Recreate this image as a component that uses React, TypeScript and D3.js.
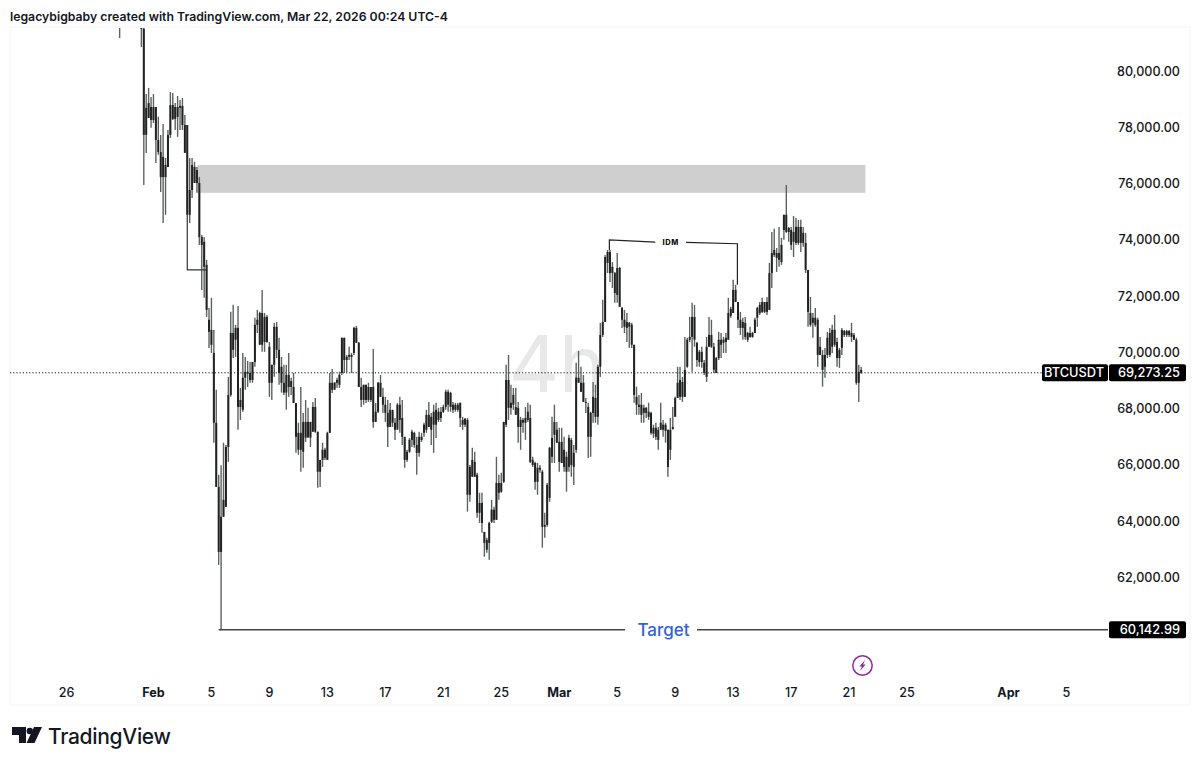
import React, { useEffect, useRef } from 'react';
import * as d3 from 'd3';

// 4h BTCUSDT candles, prices in thousands of USD
const firstCandle = Date.UTC(2026, 0, 29, 16);

const highs = [
  83.20,84.10,84.50,84.20,83.90,84.30,84.60,84.00,83.50,83.10,
  82.10,79.18,79.40,79.08,79.18,78.72,78.37,77.73,78.12,76.91,
  77.90,79.25,79.22,78.86,79.11,78.97,79.04,78.44,78.08,76.91,
  76.91,76.77,76.59,76.23,74.17,74.10,73.29,71.58,71.94,70.80,
  68.67,65.65,65.99,66.79,66.71,69.13,71.44,71.69,70.98,71.65,
  68.74,69.98,69.84,69.70,69.66,69.66,71.23,71.51,71.44,72.22,
  71.40,71.33,70.37,69.56,71.05,71.08,70.52,69.84,69.56,69.56,
  69.98,69.10,69.27,68.20,67.50,68.77,67.85,68.31,68.03,67.53,
  68.24,68.38,67.18,66.18,66.79,66.61,67.18,69.27,69.41,68.95,
  69.10,69.31,70.52,70.52,69.91,70.20,69.98,70.91,70.94,70.37,
  69.10,68.85,68.85,68.92,68.77,70.12,68.20,68.95,69.20,68.74,
  68.42,68.31,68.20,67.89,67.67,68.20,68.42,68.31,67.00,66.54,
  66.96,67.25,67.18,67.00,67.18,67.14,67.50,67.96,68.24,67.85,
  68.14,68.21,68.03,68.06,68.14,68.67,68.67,68.60,68.24,68.21,
  68.21,68.21,67.71,67.67,67.67,66.00,66.61,66.47,65.72,65.01,
  65.01,63.62,63.41,63.98,64.76,64.51,66.29,65.65,65.72,67.53,
  69.56,69.91,68.85,68.74,68.74,68.24,67.71,67.67,68.06,68.21,
  68.14,66.29,66.11,66.07,66.00,65.83,64.30,65.36,66.64,67.71,
  68.14,67.53,67.32,67.32,67.00,66.47,67.07,66.96,66.71,69.63,
  70.05,69.49,69.20,68.38,68.21,67.89,68.95,68.85,69.56,71.05,
  71.87,73.46,73.64,73.64,73.21,72.86,73.53,73.04,71.62,71.51,
  71.40,71.08,71.05,70.27,68.78,68.49,68.56,68.14,68.06,68.21,
  67.89,67.43,67.50,67.35,68.21,67.60,67.50,67.25,67.67,68.06,
  68.42,69.49,69.49,69.13,70.55,70.52,71.26,71.76,71.69,70.37,
  70.09,70.20,69.73,70.55,71.26,71.16,70.34,69.84,70.73,70.69,
  70.55,70.69,71.94,71.62,72.58,72.40,71.79,71.44,71.23,71.26,
  70.73,70.91,70.73,71.23,71.62,71.79,71.94,71.79,71.97,73.18,
  74.28,74.39,73.71,74.46,74.07,74.89,75.95,74.46,74.46,74.85,
  74.78,74.71,74.71,74.46,74.25,72.93,71.97,71.40,71.58,71.23,
  70.55,70.09,70.16,70.73,70.87,70.98,71.33,70.52,70.16,70.87,
  70.80,70.80,70.80,71.05,70.69,70.52,69.56,69.49,
];

const lows = [
  81.17,82.60,83.00,82.90,82.70,83.00,83.20,82.80,82.30,80.85,
  75.95,77.09,78.33,77.98,78.15,76.73,77.02,75.70,74.60,74.89,
  76.59,77.62,78.26,77.90,77.66,77.90,77.90,77.09,74.89,74.60,
  75.49,76.02,75.67,73.82,72.22,71.94,71.26,70.16,69.98,66.79,
  65.22,62.45,60.14,64.16,64.51,66.11,68.42,69.80,69.84,67.25,
  67.60,67.89,68.67,68.77,68.92,68.92,69.49,70.69,70.27,70.02,
  70.02,70.34,68.42,68.31,69.13,69.80,68.85,68.57,68.49,67.96,
  68.42,68.49,68.20,66.43,66.36,65.76,65.90,66.82,67.00,66.64,
  67.18,67.14,65.19,65.22,65.93,66.18,66.18,67.14,68.56,68.74,
  68.74,68.74,69.20,69.27,69.27,69.73,69.27,69.91,70.34,68.77,
  68.06,68.14,68.20,68.24,68.24,67.32,67.53,67.85,68.42,67.85,
  67.53,66.64,67.43,67.35,66.89,67.35,67.14,66.71,65.90,66.11,
  66.43,66.64,66.61,65.65,66.29,66.82,67.00,67.14,67.35,66.71,
  66.43,66.96,67.53,67.53,67.85,67.96,67.89,67.89,67.85,67.89,
  67.89,67.35,67.25,67.35,64.34,64.69,65.58,65.58,64.12,63.94,
  63.59,62.74,62.88,62.63,63.94,63.94,64.05,64.76,65.01,65.36,
  67.35,67.60,67.78,67.96,67.78,66.79,66.54,67.14,66.89,67.53,
  66.07,65.93,65.12,64.94,65.72,63.06,63.41,63.80,64.69,66.07,
  66.07,66.79,65.76,66.07,65.76,65.05,65.76,65.58,65.29,66.43,
  68.92,68.60,68.24,67.85,66.25,66.29,67.50,67.50,67.43,69.13,
  70.55,71.08,72.82,72.50,72.29,71.76,71.76,71.62,70.87,70.69,
  70.37,70.16,70.16,68.21,67.78,67.78,67.50,67.50,67.67,67.60,
  67.07,66.96,66.89,66.54,67.25,67.00,66.79,65.58,66.18,67.25,
  67.71,68.38,68.31,68.24,68.42,69.45,70.37,69.31,70.20,69.49,
  69.49,69.45,69.20,68.95,70.20,70.16,69.27,69.27,69.73,69.80,
  69.98,69.98,70.45,71.23,71.40,71.79,70.87,70.62,70.45,70.45,
  70.37,70.52,70.52,70.69,70.91,71.33,71.40,71.40,71.33,71.51,
  72.29,73.39,72.86,73.04,73.11,74.00,74.25,73.93,73.64,73.39,
  73.82,73.82,73.57,73.75,72.82,70.91,70.91,70.52,70.91,69.49,
  69.91,68.78,69.10,69.80,69.84,69.98,70.20,69.49,69.45,69.91,
  70.55,70.55,70.55,70.37,70.45,68.85,68.24,69.24,
];

const opens = [
  82.90,84.00,84.30,83.80,83.50,83.60,84.20,83.70,83.00,82.70,
  81.50,77.73,78.86,78.26,78.72,78.72,77.55,77.12,76.23,76.66,
  76.59,77.73,78.79,78.30,78.72,78.76,78.76,78.08,78.08,74.89,
  75.77,76.59,76.02,76.02,74.10,73.93,73.11,71.16,70.80,69.98,
  67.50,65.22,62.91,64.16,64.51,66.64,68.49,70.69,70.45,70.87,
  68.06,67.96,69.10,69.31,69.27,69.02,69.66,70.98,71.40,70.27,
  71.26,70.37,70.20,68.92,69.56,70.91,70.09,69.49,68.92,68.57,
  69.20,68.77,68.77,68.20,67.14,66.54,67.53,66.97,67.53,66.97,
  67.18,68.06,67.18,65.76,66.18,66.54,66.18,67.14,68.92,68.67,
  68.92,68.85,69.27,70.52,69.73,69.84,69.91,69.98,70.87,70.34,
  68.77,68.31,68.85,68.31,68.77,68.77,67.53,67.89,68.92,68.42,
  68.14,67.85,67.35,67.96,67.50,67.25,68.14,67.67,67.00,66.18,
  66.47,66.89,67.14,66.71,66.43,67.00,67.14,67.25,67.78,67.25,
  67.89,67.43,67.89,67.67,67.89,68.06,68.60,68.06,68.14,67.96,
  68.14,68.21,67.60,67.43,67.60,64.94,66.18,65.58,65.65,64.30,
  64.65,63.62,63.34,63.23,63.98,64.41,64.05,65.36,65.05,65.40,
  67.43,69.02,68.03,68.14,68.06,68.03,67.35,67.60,67.50,67.60,
  67.67,66.18,66.07,65.40,65.90,65.76,63.80,63.87,64.83,66.29,
  67.07,67.25,66.82,66.07,66.54,66.29,65.93,66.89,65.93,66.54,
  69.10,68.92,68.92,68.24,68.06,67.00,67.85,68.38,67.71,69.49,
  70.62,71.08,73.18,73.57,72.82,72.82,72.04,73.00,71.58,71.16,
  70.87,71.05,70.98,70.27,68.42,68.14,68.14,67.85,68.03,67.89,
  67.85,67.11,67.32,67.25,67.25,67.43,67.21,67.25,66.54,67.28,
  67.71,68.38,68.42,68.95,68.42,69.49,70.45,70.55,71.26,70.34,
  70.02,69.66,69.63,69.13,70.20,70.62,70.20,69.27,69.80,70.45,
  70.34,70.37,70.45,71.30,71.40,72.22,71.79,71.16,70.87,71.05,
  70.45,70.69,70.55,70.69,71.23,71.40,71.79,71.44,71.79,71.51,
  72.82,73.64,73.53,73.29,73.21,74.35,74.89,74.28,74.35,73.93,
  74.46,73.89,74.46,73.89,73.89,72.93,71.40,71.05,71.23,71.16,
  69.91,69.91,69.49,69.91,70.69,70.20,70.80,70.37,69.80,70.16,
  70.62,70.76,70.62,70.69,70.62,70.45,68.92,69.38,
];

const closes = [
  82.20,83.40,83.50,83.90,84.00,83.30,83.80,83.20,82.90,81.50,
  77.73,78.69,78.33,78.72,78.26,77.55,77.12,76.23,76.95,76.23,
  77.73,78.79,78.30,78.72,78.37,78.69,78.08,77.09,74.89,75.77,
  76.66,76.02,76.48,74.10,73.82,73.04,71.51,70.73,70.27,67.50,
  65.22,62.91,64.16,64.76,66.64,68.49,70.69,70.09,70.87,68.06,
  68.31,69.10,69.31,69.24,69.02,69.66,70.98,71.16,70.27,71.40,
  70.37,71.26,68.92,69.56,70.91,70.09,69.27,68.92,68.57,69.20,
  68.77,68.98,68.20,67.00,66.54,67.14,66.47,67.53,66.97,67.53,
  68.06,67.18,65.76,66.18,66.54,66.25,67.14,68.92,68.67,68.92,
  69.02,69.20,70.52,69.73,69.84,69.91,69.84,70.87,70.34,68.77,
  68.31,68.85,68.31,68.77,68.31,67.53,67.89,68.92,68.42,68.14,
  67.85,67.35,67.96,67.50,67.25,68.14,67.60,67.00,66.18,66.47,
  66.89,67.18,66.71,66.43,67.00,66.89,67.43,67.78,67.35,67.71,
  67.43,67.96,67.60,67.89,68.06,68.60,68.14,68.56,67.96,68.14,
  67.96,67.67,67.43,67.64,64.94,65.93,65.58,66.11,64.30,64.65,
  63.94,63.23,62.99,63.94,64.41,64.05,65.36,65.01,65.36,67.53,
  69.02,68.03,68.21,68.49,67.78,67.35,67.60,67.50,67.67,67.89,
  66.11,66.00,65.40,65.90,65.83,63.80,63.87,65.29,66.61,66.96,
  67.53,66.79,66.11,66.82,65.93,65.76,66.96,66.00,66.43,69.10,
  68.92,68.60,68.24,68.21,67.00,67.85,68.42,67.71,69.49,70.62,
  71.08,73.39,73.57,72.82,73.04,72.11,73.00,71.62,71.16,70.91,
  71.08,70.91,70.27,68.49,68.14,68.06,67.78,68.03,67.85,67.71,
  67.14,67.32,67.00,66.89,67.50,67.25,67.43,65.93,67.25,67.35,
  68.38,68.92,69.02,68.42,69.38,70.45,70.55,71.26,70.45,69.73,
  69.66,70.02,69.27,70.20,70.62,70.20,69.38,69.80,70.45,70.27,
  70.45,70.52,71.40,71.55,72.22,71.79,71.16,70.87,71.08,70.55,
  70.69,70.55,70.69,71.16,71.58,71.69,71.44,71.79,71.44,72.82,
  73.53,73.46,73.36,73.53,73.82,74.89,74.28,74.42,73.82,74.28,
  73.89,74.46,73.89,74.25,72.93,71.44,70.98,71.23,70.98,69.91,
  70.20,69.38,69.91,70.52,69.91,70.80,70.27,69.80,70.09,70.80,
  70.76,70.62,70.76,70.55,70.45,68.92,69.31,69.27,
];

const priceTicks = [80, 78, 76, 74, 72, 70, 68, 66, 64, 62];
const lastPrice = 69.27325;
const targetPrice = 60.14299;
const symbol = 'BTCUSDT';

const dateTicks = [
  Date.UTC(2026, 0, 26), Date.UTC(2026, 1, 1), Date.UTC(2026, 1, 5), Date.UTC(2026, 1, 9),
  Date.UTC(2026, 1, 13), Date.UTC(2026, 1, 17), Date.UTC(2026, 1, 21), Date.UTC(2026, 1, 25),
  Date.UTC(2026, 2, 1), Date.UTC(2026, 2, 5), Date.UTC(2026, 2, 9), Date.UTC(2026, 2, 13),
  Date.UTC(2026, 2, 17), Date.UTC(2026, 2, 21), Date.UTC(2026, 2, 25), Date.UTC(2026, 3, 1),
  Date.UTC(2026, 3, 5),
];
const dateLabels = ['26', 'Feb', '5', '9', '13', '17', '21', '25', 'Mar', '5', '9', '13', '17', '21', '25', 'Apr', '5'];

// grey supply zone, small swing box and IDM sweep drawn on the chart
const zoneTimes = [Date.UTC(2026, 1, 4, 1), Date.UTC(2026, 2, 22, 3)];
const zonePrices = [76.66, 75.67];
const boxTimes = [Date.UTC(2026, 1, 3, 8), Date.UTC(2026, 1, 4, 16)];
const boxPrices = [74.89, 72.93];
const idmTimes = [Date.UTC(2026, 2, 4, 11), Date.UTC(2026, 2, 7, 15), Date.UTC(2026, 2, 9, 18), Date.UTC(2026, 2, 13, 7)];
const idmPrices = [73.64, 74.0, 73.92, 73.86, 72.4];
const targetStart = Date.UTC(2026, 1, 5, 12);

const FONT = 'Inter, "Noto Sans", sans-serif';

const App = () => {
  const d3Container = useRef<SVGSVGElement | null>(null);

  useEffect(() => {
    const svg = d3.select(d3Container.current);
    svg.selectAll('*').remove();

    const xScale = d3.scaleUtc()
      .domain([Date.UTC(2026, 0, 26), Date.UTC(2026, 3, 5)])
      .range([66.5, 1066.5]);
    const yScale = d3.scaleLinear().domain([62, 80]).range([577.5, 71]);
    const fmt = d3.format(',.2f');
    const candleX = (i: number) => xScale(d3.utcHour.offset(new Date(firstCandle), i * 4));

    // header
    svg.append('text')
      .attr('x', 10).attr('y', 21)
      .attr('font-family', FONT).attr('font-size', 12.25).attr('font-weight', 600).attr('fill', '#131722')
      .text('legacybigbaby created with TradingView.com, Mar 22, 2026 00:24 UTC-4');

    // pane
    svg.append('rect')
      .attr('x', 10).attr('y', 27).attr('width', 1180).attr('height', 678)
      .attr('fill', '#fff').attr('stroke', '#f3f3f3');

    svg.append('defs').append('clipPath').attr('id', 'pane')
      .append('rect').attr('x', 10).attr('y', 28).attr('width', 1095).attr('height', 677);

    // watermark
    svg.append('text')
      .attr('x', 557).attr('y', 392).attr('text-anchor', 'middle')
      .attr('font-family', FONT).attr('font-size', 78).attr('font-weight', 400).attr('fill', '#e8e8e8')
      .text('4h');

    // zone
    svg.append('rect')
      .attr('x', xScale(zoneTimes[0])).attr('y', yScale(zonePrices[0]))
      .attr('width', xScale(zoneTimes[1]) - xScale(zoneTimes[0]))
      .attr('height', yScale(zonePrices[1]) - yScale(zonePrices[0]))
      .attr('fill', '#cfcfcf');

    // last price line
    svg.append('line')
      .attr('x1', 10).attr('x2', 1042).attr('y1', yScale(lastPrice)).attr('y2', yScale(lastPrice))
      .attr('stroke', '#111').attr('stroke-width', 1).attr('stroke-dasharray', '1.2 2');

    // candles
    const candles = svg.append('g').attr('clip-path', 'url(#pane)');
    const idx = d3.range(highs.length);
    candles.selectAll('line.wick').data(idx).join('line')
      .attr('class', 'wick')
      .attr('x1', (i) => candleX(i)).attr('x2', (i) => candleX(i))
      .attr('y1', (i) => yScale(highs[i])).attr('y2', (i) => yScale(lows[i]))
      .attr('stroke', '#5c625f').attr('stroke-width', 1.4);
    candles.selectAll('rect.body').data(idx).join('rect')
      .attr('class', 'body')
      .attr('x', (i) => candleX(i) - 1)
      .attr('width', 2)
      .attr('y', (i) => yScale(Math.max(opens[i], closes[i])))
      .attr('height', (i) => Math.max(1, Math.abs(yScale(opens[i]) - yScale(closes[i]))))
      .attr('fill', '#222');

    // swing box
    svg.append('path')
      .attr('d', d3.line()([
        [xScale(boxTimes[0]), yScale(boxPrices[0])],
        [xScale(boxTimes[0]), yScale(boxPrices[1])],
        [xScale(boxTimes[1]), yScale(boxPrices[1])],
      ]))
      .attr('fill', 'none').attr('stroke', '#333').attr('stroke-width', 1.2);

    // IDM
    svg.append('path')
      .attr('d', d3.line()([
        [xScale(idmTimes[0]), yScale(idmPrices[0])],
        [xScale(idmTimes[0]), yScale(idmPrices[1])],
        [xScale(idmTimes[1]), yScale(idmPrices[2])],
      ]))
      .attr('fill', 'none').attr('stroke', '#222').attr('stroke-width', 1.2);
    svg.append('path')
      .attr('d', d3.line()([
        [xScale(idmTimes[2]), yScale(idmPrices[3] + 0.05)],
        [xScale(idmTimes[3]), yScale(idmPrices[3])],
        [xScale(idmTimes[3]), yScale(idmPrices[4])],
      ]))
      .attr('fill', 'none').attr('stroke', '#222').attr('stroke-width', 1.2);
    svg.append('text')
      .attr('x', (xScale(idmTimes[1]) + xScale(idmTimes[2])) / 2).attr('y', yScale(idmPrices[2]) + 2.5)
      .attr('text-anchor', 'middle')
      .attr('font-family', FONT).attr('font-size', 7.5).attr('font-weight', 800)
      .attr('letter-spacing', 0.5).attr('fill', '#111')
      .text('IDM');

    // target line
    const ty = yScale(targetPrice);
    svg.append('line').attr('x1', xScale(targetStart)).attr('x2', 625).attr('y1', ty).attr('y2', ty)
      .attr('stroke', '#444').attr('stroke-width', 1.6);
    svg.append('line').attr('x1', 697).attr('x2', 1108).attr('y1', ty).attr('y2', ty)
      .attr('stroke', '#444').attr('stroke-width', 1.6);
    svg.append('text')
      .attr('x', 663.5).attr('y', ty + 6.5).attr('text-anchor', 'middle')
      .attr('font-family', FONT).attr('font-size', 17).attr('font-weight', 500).attr('fill', '#2f62dc')
      .text('Target');

    // price scale
    svg.append('g').selectAll('text').data(priceTicks).join('text')
      .attr('x', 1180).attr('y', (d) => yScale(d) + 4.5).attr('text-anchor', 'end')
      .attr('font-family', FONT).attr('font-size', 12.6).attr('font-weight', 500).attr('fill', '#131722')
      .text((d) => fmt(d * 1000));

    // price tags
    const tag = (x: number, w: number, y: number, label: string, anchor: number) => {
      svg.append('rect').attr('x', x).attr('y', y - 8.5).attr('width', w).attr('height', 17).attr('rx', 2).attr('fill', '#000');
      svg.append('text')
        .attr('x', anchor).attr('y', y + 4.5).attr('text-anchor', 'end')
        .attr('font-family', FONT).attr('font-size', 12.8).attr('font-weight', 500).attr('fill', '#fff')
        .text(label);
    };
    tag(1042, 66, yScale(lastPrice), symbol, 1104);
    tag(1109, 77, yScale(lastPrice), fmt(lastPrice * 1000), 1180);
    tag(1109, 77, ty, fmt(targetPrice * 1000), 1180);

    // time scale
    svg.append('g').selectAll('text').data(dateTicks).join('text')
      .attr('x', (d) => xScale(d)).attr('y', 697).attr('text-anchor', 'middle')
      .attr('font-family', FONT).attr('font-size', 12.6)
      .attr('font-weight', (_, i) => (isNaN(+dateLabels[i]) ? 700 : 500))
      .attr('fill', '#131722')
      .text((_, i) => dateLabels[i]);

    // lightning badge
    const badge = svg.append('g').attr('transform', 'translate(862.5,665.5)');
    badge.append('circle').attr('r', 9.7).attr('fill', '#fff').attr('stroke', '#8e2aa8').attr('stroke-width', 1.5);
    badge.append('path').attr('d', 'M2.6,-5.4 L-3.2,1 L-0.6,1 L-2.6,5.4 L3.2,-1 L0.6,-1 Z').attr('fill', '#8e2aa8');

    // logo
    const logo = svg.append('g').attr('fill', '#131722');
    logo.append('path').attr('d', 'M12,727 H26 V743 H19 V735 H12 Z');
    logo.append('circle').attr('cx', 29.8).attr('cy', 731).attr('r', 3.2);
    logo.append('path').attr('d', 'M34,727 H42 L34.5,743 H26.5 Z');
    logo.append('text')
      .attr('x', 48).attr('y', 744)
      .attr('font-family', FONT).attr('font-size', 21).attr('font-weight', 500)
      .attr('letter-spacing', -0.3)
      .text('TradingView');
  }, []);

  return (
    <svg
      ref={d3Container}
      width={1200}
      height={766}
      style={{ position: 'absolute', left: 0, top: 0, background: '#fff' }}
    />
  );
};

export default App;
